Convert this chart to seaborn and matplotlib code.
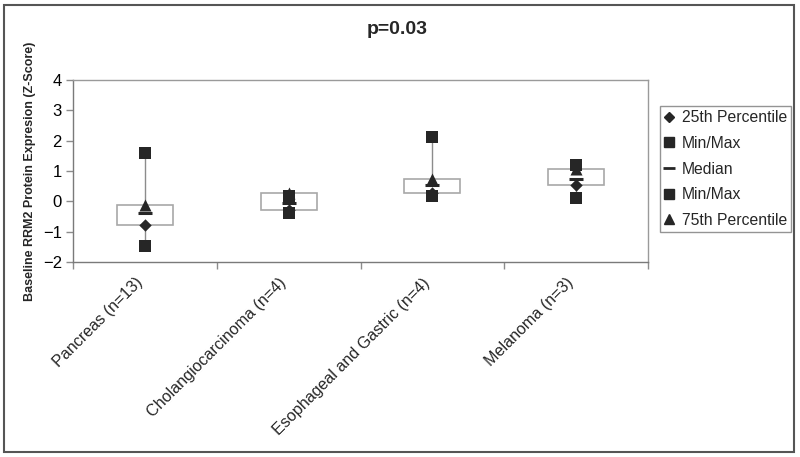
import numpy as np
import matplotlib.pyplot as plt
import seaborn as sns
from matplotlib.lines import Line2D
from matplotlib.patches import Rectangle
from matplotlib.transforms import ScaledTranslation

# values
categories = ['Pancreas (n=13)', 'Cholangiocarcinoma (n=4)',
              'Esophageal and Gastric (n=4)', 'Melanoma (n=3)']
pct25 = [-0.77, -0.29, 0.26, 0.53]
max_vals = [1.60, 0.17, 2.12, 1.20]
median = [-0.38, -0.05, 0.55, 0.72]
min_vals = [-1.47, -0.37, 0.17, 0.12]
pct75 = [-0.11, 0.29, 0.73, 1.07]
yticks = [-2, -1, 0, 1, 2, 3, 4]

sns.set_theme(style='white')
plt.rcParams['font.family'] = ['Liberation Sans', 'DejaVu Sans']

fig = plt.figure(figsize=(8, 4.57), dpi=100)
ax = fig.add_axes([73/800, 1-262/457, 575/800, 182/457])

mark = '#262626'
grey = '#8c8c8c'

# high-low line (behind the box)
lo = np.minimum.reduce([pct25, max_vals, median, min_vals, pct75])
hi = np.maximum.reduce([pct25, max_vals, median, min_vals, pct75])
ax.vlines(categories, lo, hi, color=grey, lw=1, zorder=1)

# box between 25th and 75th percentile
ax.bar(categories, np.subtract(pct75, pct25), bottom=pct25, width=0.39,
       color='white', edgecolor='#a8a8a8', lw=1.2, zorder=2)

sns.scatterplot(x=categories, y=pct25, marker='D', s=40, color=mark,
                edgecolor=mark, linewidth=0, zorder=3, ax=ax, legend=False)
sns.scatterplot(x=categories, y=max_vals, marker='s', s=65, color=mark,
                edgecolor=mark, linewidth=0, zorder=3, ax=ax, legend=False)
sns.scatterplot(x=categories, y=median, marker='_', s=100, color=mark,
                linewidth=2.2, zorder=3, ax=ax, legend=False)
sns.scatterplot(x=categories, y=min_vals, marker='s', s=65, color=mark,
                edgecolor=mark, linewidth=0, zorder=3, ax=ax, legend=False)
sns.scatterplot(x=categories, y=pct75, marker='^', s=75, color=mark,
                edgecolor=mark, linewidth=0, zorder=3, ax=ax, legend=False)

ax.set_xlim(-0.5, 3.5)
ax.set_ylim(-2, 4)
ax.set_yticks(yticks)
ax.tick_params(axis='y', length=5, width=1, color=grey, labelsize=12,
               pad=3, left=True, labelcolor='black')
ax.set_xticks(range(len(categories)))
ax.set_xticklabels(categories, rotation=45, ha='right', va='top',
                   rotation_mode='anchor', fontsize=11.6)
ax.tick_params(axis='x', length=0, pad=8)
for lbl in ax.get_xticklabels():
    lbl.set_transform(lbl.get_transform() +
                      ScaledTranslation(-0.10, -0.02, fig.dpi_scale_trans))
ax.set_xticks([-0.5, 0.5, 1.5, 2.5, 3.5], minor=True)
ax.tick_params(axis='x', which='minor', length=5, width=1, color=grey,
               bottom=True)
for s in ax.spines.values():
    s.set_color('#9a9a9a')
    s.set_linewidth(1)
ax.spines['left'].set_color('#7a7a7a')
ax.spines['bottom'].set_color('#7a7a7a')

ax.set_xlabel('')
ax.set_ylabel('Baseline RRM2 Protein Expresion (Z-Score)', fontsize=9,
              fontweight='bold')
ax.yaxis.set_label_coords(-37/575, 0.5)

fig.text(397/800, 1-30/457, 'p=0.03', ha='center', va='center',
         fontsize=14, fontweight='bold')

handles = [
    Line2D([], [], ls='none', marker='D', ms=5, color=mark),
    Line2D([], [], ls='none', marker='s', ms=6.5, color=mark),
    Line2D([], [], ls='none', marker='_', ms=8, mew=2, color=mark),
    Line2D([], [], ls='none', marker='s', ms=6.5, color=mark),
    Line2D([], [], ls='none', marker='^', ms=7, color=mark),
]
labels = ['25th Percentile', 'Min/Max', 'Median', 'Min/Max', '75th Percentile']
leg = ax.legend(handles, labels, loc='center',
                bbox_to_anchor=(725.5/800, 1-169/457),
                bbox_transform=fig.transFigure, fontsize=11.3, frameon=True,
                fancybox=False, edgecolor='#7a7a7a', handlelength=0.7,
                handletextpad=0.45, labelspacing=0.68, borderpad=0.25,
                borderaxespad=0)
leg.get_frame().set_linewidth(1)

# outer chart border
fig.patches.append(Rectangle((4/800, 5/457), 790/800, 447/457,
                             transform=fig.transFigure, fill=False,
                             edgecolor='#555555', lw=1.5))

fig.savefig('out.png', dpi=100)
